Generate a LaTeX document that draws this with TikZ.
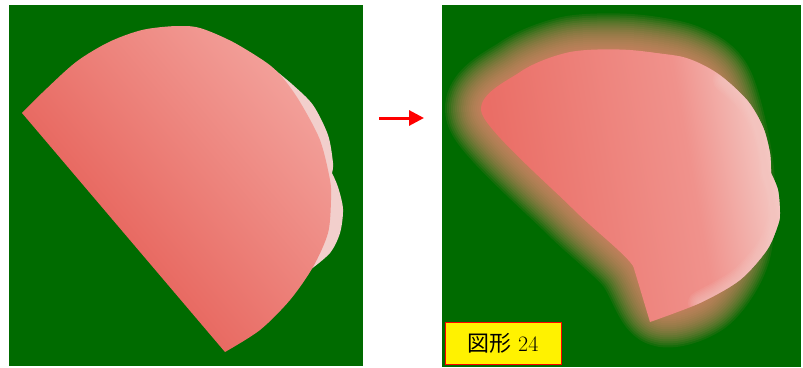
\documentclass[tikz,border=0pt]{standalone}
\usepackage{fontspec}
\newfontfamily\jpfont{Noto Sans CJK JP}
\usetikzlibrary{arrows.meta,positioning}
\definecolor{bggreen}{RGB}{0,107,0}
\definecolor{pinkdark}{RGB}{232,106,98}
\definecolor{pinklight}{RGB}{244,168,162}
\definecolor{pinkpale}{RGB}{242,207,204}
\definecolor{rdark}{RGB}{234,110,102}
\definecolor{rmid}{RGB}{240,146,140}
\definecolor{rlight}{RGB}{244,204,199}
\definecolor{glowpink}{RGB}{236,138,116}
\pgfdeclarehorizontalshading{leftfill}{100bp}{color(0bp)=(pinkdark); color(39bp)=(pinkdark); color(80bp)=(pinklight); color(100bp)=(pinklight)}
\pgfdeclarehorizontalshading{rightfill}{100bp}{color(0bp)=(rdark); color(30bp)=(rdark); color(60bp)=(rmid); color(74bp)=(rlight); color(100bp)=(rlight)}
% outlines, in pixel units of the reference
\newcommand\leftshape{plot[smooth] coordinates {(22,113) (42,93) (76,62) (109,42) (142,30) (176,26) (200,28) (233,42) (267,63) (283,78) (300,102) (320,140) (330,180) (331,200) (328,233) (313,267) (290,300) (260,330) (225,352)} -- cycle}
\newcommand\paleshape{plot[smooth] coordinates {(275,70) (293,85) (313,105) (328,135) (333,163) (332,173)} -- plot[smooth] coordinates {(332,173) (338,187) (343,209) (340,233) (330,253) (310,270)} -- (280,200) -- cycle}
\newcommand\blobshape{plot[smooth cycle] coordinates {(482,114) (520,72) (570,52) (630,50) (685,60) (718,86) (738,170) (735,250) (705,298) (660,310) (630,262) (572,208)}}
\newcommand\rimline{plot[smooth] coordinates {(700,303) (740,280) (767,250) (778,225) (780,213) (778,190) (771,173)} plot[smooth] coordinates {(771,172) (770,153) (763,127) (747,100) (725,80)}}
\newcommand\sharpshape{(632,262) -- plot[smooth] coordinates {(650,322) (700,303) (740,280) (767,250) (778,225) (780,213) (778,190) (771,173)} -- plot[smooth] coordinates {(771,172) (770,153) (763,127) (747,100) (717,73) (683,57) (633,51)} -- (640,80) -- (600,150) -- cycle}

\begin{document}
\begin{tikzpicture}[x=1pt,y=-1pt,
  panel/.style={fill=bggreen},
  lshade/.style={shading=leftfill,shading angle=40},
  rshade/.style={shading=rightfill,shading angle=10},
  tag/.style={draw=red,line width=1pt,fill=yellow,minimum width=116pt,minimum height=42pt,inner sep=0pt,font=\fontsize{22}{26}\selectfont}]
\useasboundingbox (0,0) rectangle (803,367);
\fill[white] (0,0) rectangle (803,367);
% panels
\fill[panel] (9,5) rectangle (363,366);
\fill[panel] (442,5) rectangle (801,367);
% left picture
\fill[pinkpale] \paleshape;
\begin{scope}
\clip \leftshape;
\shade[lshade] (22,26) rectangle (331,352);
\end{scope}
% right picture, blurred
\begin{scope}
\clip (442,5) rectangle (801,367);
\foreach \i in {1,...,18}{
\draw[glowpink,opacity=0.09,line width=\i*4pt,line join=round] \blobshape;}
\end{scope}
\begin{scope}
\clip \blobshape;
\shade[rshade] (470,40) rectangle (790,330);
\end{scope}
\begin{scope}
\clip \sharpshape;
\shade[rshade] (470,40) rectangle (790,330);
\foreach \i in {1,...,8}{
\draw[rlight,opacity=0.1,line width=\i*3pt,line cap=round] \rimline;}
\end{scope}
% arrow and label
\coordinate (arrS) at (379,118);
\coordinate (arrE) at (424,118);
\draw[-{Triangle[length=15pt,width=15pt]},red,line width=3pt] (arrS) -- (arrE);
\node[tag] (lbl) at (503,343) {{\jpfont 図形} 24};
\end{tikzpicture}
\end{document}
